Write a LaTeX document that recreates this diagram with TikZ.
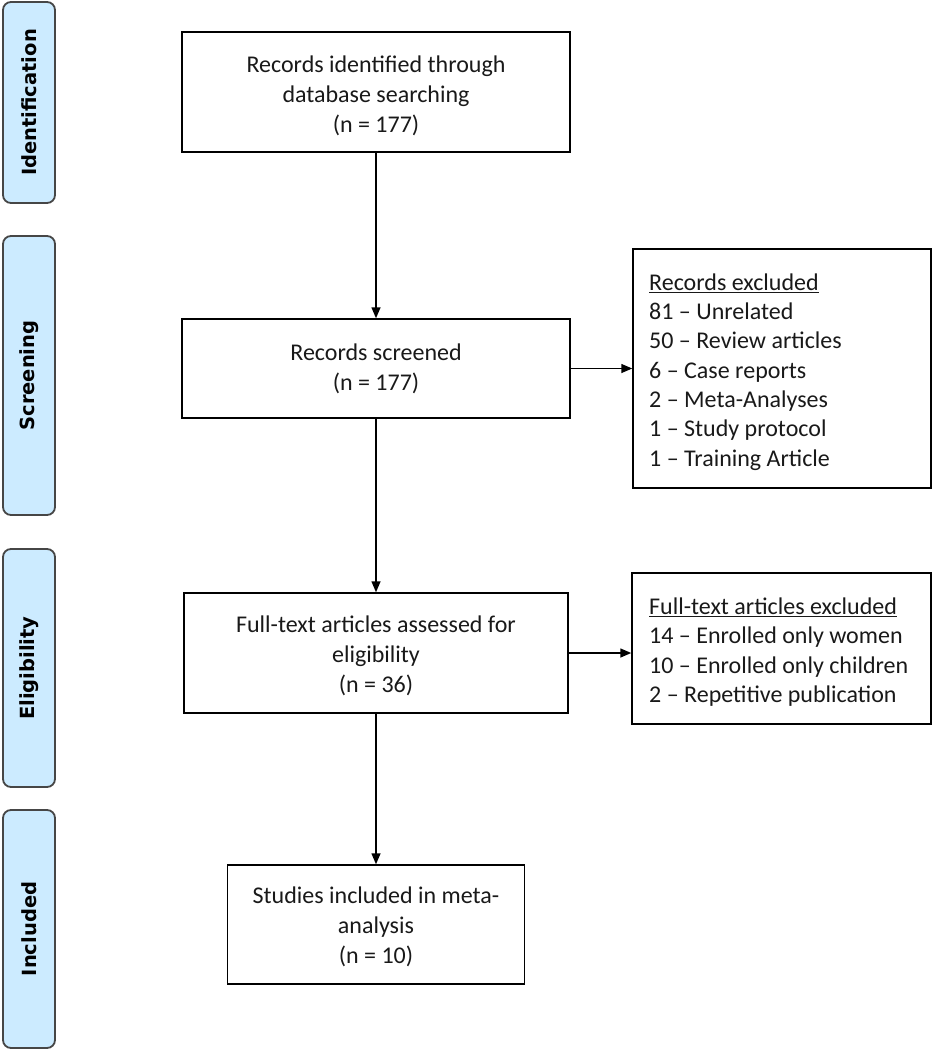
\documentclass[tikz,border=0pt]{standalone}
\usepackage{fontspec}
\setmainfont{Carlito}
\newfontfamily\sidefont{DejaVu Sans}
\usetikzlibrary{arrows.meta}
\definecolor{sideblue}{RGB}{204,235,255}
\definecolor{sideedge}{RGB}{70,70,70}
\definecolor{txt}{RGB}{25,25,25}
\newcommand{\boxlines}[2]{\raisebox{-#1}[\height][\depth]{\begin{tabular}{@{}c@{}}#2\end{tabular}}}
\begin{document}
\begin{tikzpicture}[x=1bp,y=-1bp,
  sidelbl/.style={draw=sideedge,fill=sideblue,line width=1.8bp,rounded corners=8bp,
    minimum width=52bp,inner sep=0pt},
  sidetext/.style={rotate=90,inner sep=0pt,text=black,
    font=\sidefont\bfseries\fontsize{19.5bp}{22bp}\selectfont},
  mainbox/.style={draw=black,line width=1.5bp,inner sep=0pt,align=center,text=txt,
    font=\fontsize{24bp}{30bp}\selectfont},
  exclbox/.style={draw=black,line width=1.5bp,inner sep=0pt},
  excltext/.style={anchor=west,inner sep=0pt,align=left,text=txt,
    font=\fontsize{24bp}{29.3bp}\selectfont},
  arr/.style={draw=black,line width=1.5bp,-{Triangle[length=11bp,width=9bp]}}
]
\useasboundingbox (0,0) rectangle (932,1050);

% side labels
\node[sidelbl,minimum height=201bp] (sid) at (29,102.5) {};
\node[sidetext] at (sid.center) {Identification};
\node[sidelbl,minimum height=279bp] (ssc) at (29,375.5) {};
\node[sidetext] at (ssc.center) {Screening};
\node[sidelbl,minimum height=238bp] (sel) at (29,668) {};
\node[sidetext] at (sel.center) {Eligibility};
\node[sidelbl,minimum height=238bp] (sin) at (29,929) {};
\node[sidetext] at (sin.center) {Included};

% main boxes
\node[mainbox,minimum width=388bp,minimum height=120bp] (b1) at (376,92)
  {\boxlines{4bp}{Records identified through\\database searching\\(n = 177)}};
\node[mainbox,minimum width=388bp,minimum height=99bp] (b2) at (376,368.5)
  {\boxlines{1bp}{Records screened\\(n = 177)}};
\node[mainbox,minimum width=384bp,minimum height=120bp] (b3) at (376,653)
  {\boxlines{3bp}{Full-text articles assessed for\\eligibility\\(n = 36)}};
\node[mainbox,minimum width=297bp,minimum height=119bp] (b4) at (376,924.5)
  {\boxlines{3bp}{Studies included in meta-\\analysis\\(n = 10)}};

% exclusion boxes
\node[exclbox,minimum width=298bp,minimum height=239bp] (e1) at (782,368.5) {};
\node[excltext] (e1t) at (649,372)
  {\underline{Records excluded}\\81 – Unrelated\\50 – Review articles\\6 – Case reports\\2 – Meta-Analyses\\1 – Study protocol\\1 – Training Article};
\node[exclbox,minimum width=299bp,minimum height=151bp] (e2) at (781.5,648.5) {};
\node[excltext] (e2t) at (649,652)
  {\underline{Full-text articles excluded}\\14 – Enrolled only women\\10 – Enrolled only children\\2 – Repetitive publication};

% connectors
\draw[arr] (b1.south) -- (b2.north);
\draw[arr] (b2.south) -- (b3.north);
\draw[arr] (b3.south) -- (b4.north);
\draw[arr] (b2.east) -- (b2.east -| e1.west);
\draw[arr] (b3.east) -- (b3.east -| e2.west);
\end{tikzpicture}
\end{document}
